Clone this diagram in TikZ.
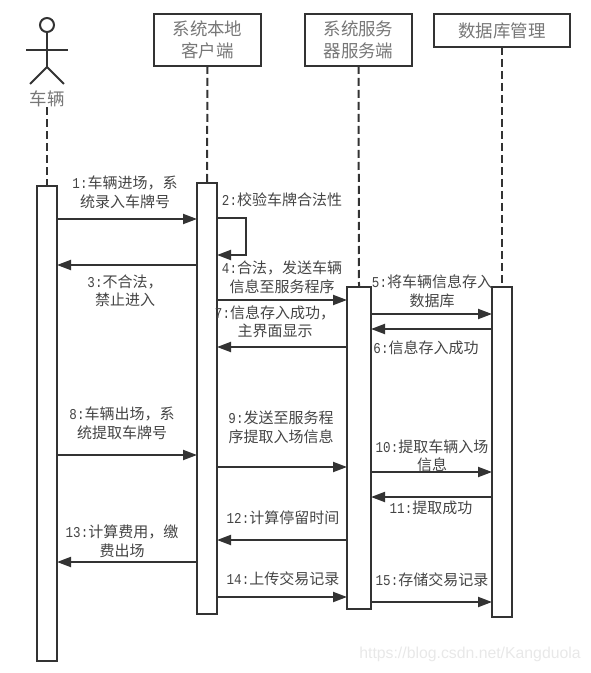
\documentclass[tikz,border=0pt]{standalone}
\usepackage{fontspec}
\usepackage{graphicx}
\setmainfont{Noto Sans CJK SC}
\newfontfamily\lmn{Liberation Mono}
\newfontfamily\wmk{Liberation Sans}
\usetikzlibrary{arrows.meta}
\definecolor{ink}{HTML}{333333}
\definecolor{txt}{HTML}{444444}
\definecolor{head}{HTML}{777777}
\definecolor{mark}{HTML}{E8E8E8}
\newcommand{\nm}[1]{\scalebox{1}[1.2]{\lmn\fontsize{9.4}{14}\selectfont #1}}
\tikzset{
  objbox/.style={draw=ink,line width=1.5pt,fill=white,rectangle,inner sep=0pt,outer sep=0pt,align=center,text=head,font=\fontsize{13.1}{16.5}\selectfont},
  bar/.style={draw=ink,line width=1.5pt,fill=white,rectangle,inner sep=0pt,outer sep=0pt},
  life/.style={draw=ink,line width=1.5pt,dash pattern=on 6pt off 3pt},
  msg/.style={draw=ink,line width=1.5pt,-{Triangle[length=10.5pt,width=7.5pt]}},
  lab/.style={text=txt,align=center,inner sep=0pt,font=\fontsize{11.25}{13.9}\selectfont},
  stick/.style={draw=ink,line width=1.5pt}
}
\begin{document}
\begin{tikzpicture}[x=0.75pt,y=-0.75pt]
\useasboundingbox (0,0) rectangle (590,673);
% object boxes
\node[objbox,minimum width=80.25pt,minimum height=39pt] (obB) at (207.5,40) {系统本地\\客户端};
\node[objbox,minimum width=80.25pt,minimum height=39pt] (obC) at (358.5,40) {系统服务\\器服务端};
\node[objbox,minimum width=102pt,minimum height=24.75pt] (obD) at (502,30.5) {数据库管理};
% actor
\node[circle,draw=ink,line width=1.5pt,minimum size=10.5pt,inner sep=0pt,outer sep=0pt] (head) at (47,25) {};
\coordinate (hip) at (47,67);
\coordinate (armL) at (26,50);
\coordinate (armR) at (68,50);
\coordinate (legL) at (30,84);
\coordinate (legR) at (64,84);
\draw[stick] (head.south) -- (hip);
\draw[stick] (armL) -- (armR);
\draw[stick] (legL) -- (hip) -- (legR);
\node[text=head,inner sep=0pt,font=\fontsize{13.1}{16}\selectfont] (obA) at (47,99) {车辆};
% activation bars
\node[bar,minimum width=15pt,minimum height=356.25pt] (A) at (47,423.5) {};
\node[bar,minimum width=15pt,minimum height=323.25pt] (B) at (207,398.5) {};
\node[bar,minimum width=18pt,minimum height=241.5pt] (C) at (359,448) {};
\node[bar,minimum width=15pt,minimum height=247.5pt] (D) at (502,452) {};
% lifelines
\draw[life] (obA.south) -- (A.north);
\draw[life] (obB.south) -- (B.north);
\draw[life] (obC.south) -- (C.north);
\draw[life] (obD.south) -- (D.north);
% messages
\draw[msg] (A.east |- 0,219) -- (B.west |- 0,219);
\draw[msg] (B.east |- 0,218) -| (246,255) -- (B.east |- 0,255);
\draw[msg] (B.west |- 0,265) -- (A.east |- 0,265);
\draw[msg] (B.east |- 0,300) -- (C.west |- 0,300);
\draw[msg] (C.east |- 0,314) -- (D.west |- 0,314);
\draw[msg] (D.west |- 0,329) -- (C.east |- 0,329);
\draw[msg] (C.west |- 0,347) -- (B.east |- 0,347);
\draw[msg] (A.east |- 0,455) -- (B.west |- 0,455);
\draw[msg] (B.east |- 0,467) -- (C.west |- 0,467);
\draw[msg] (C.east |- 0,472) -- (D.west |- 0,472);
\draw[msg] (D.west |- 0,497) -- (C.east |- 0,497);
\draw[msg] (C.west |- 0,540) -- (B.east |- 0,540);
\draw[msg] (B.west |- 0,562) -- (A.east |- 0,562);
\draw[msg] (B.east |- 0,597) -- (C.west |- 0,597);
\draw[msg] (C.east |- 0,602) -- (D.west |- 0,602);
% labels
\node[lab] (l1) at (125,192.5) {\nm{1:}车辆进场，系\\统录入车牌号};
\node[lab] (l2) at (282,200) {\nm{2:}校验车牌合法性};
\node[lab] (l3) at (125,291) {\nm{3:}不合法，\\禁止进入};
\node[lab] (l4) at (282,277.5) {\nm{4:}合法，发送车辆\\信息至服务程序};
\node[lab] (l5) at (432,291) {\nm{5:}将车辆信息存入\\数据库};
\node[lab] (l6) at (426,348) {\nm{6:}信息存入成功};
\node[lab] (l7) at (275,322) {\nm{7:}信息存入成功，\\主界面显示};
\node[lab] (l8) at (122,423.5) {\nm{8:}车辆出场，系\\统提取车牌号};
\node[lab] (l9) at (281,427.5) {\nm{9:}发送至服务程\\序提取入场信息};
\node[lab] (l10) at (432,456) {\nm{10:}提取车辆入场\\信息};
\node[lab] (l11) at (431,508) {\nm{11:}提取成功};
\node[lab] (l12) at (283,518) {\nm{12:}计算停留时间};
\node[lab] (l13) at (122,541) {\nm{13:}计算费用，缴\\费出场};
\node[lab] (l14) at (283,579) {\nm{14:}上传交易记录};
\node[lab] (l15) at (432,580) {\nm{15:}存储交易记录};
% watermark
\node[text=mark,inner sep=0pt,font=\wmk\fontsize{11.85}{13}\selectfont] (wm) at (470,654) {https://blog.csdn.net/Kangduola};
\end{tikzpicture}
\end{document}
